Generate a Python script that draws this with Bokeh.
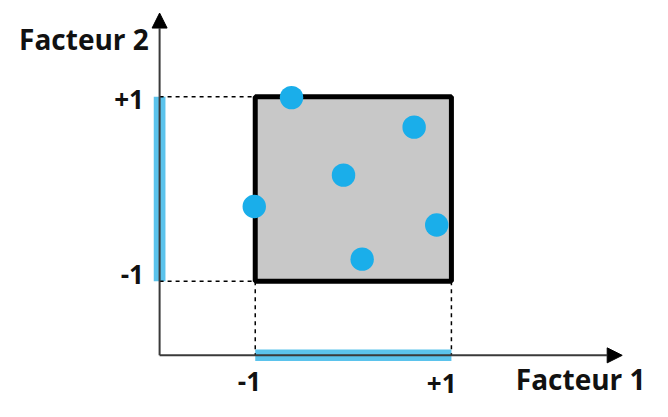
from bokeh.plotting import figure
from bokeh.models import Range1d, Arrow, NormalHead
from bokeh.core.properties import value
from bokeh.embed import file_html
from bokeh.resources import INLINE

# ---- data ----
facteur1 = [-0.63, 0.62, -0.10, -1.01, 0.85, 0.09]
facteur2 = [0.99, 0.67, 0.15, -0.19, -0.39, -0.76]
tick_values = [-1, 1]
tick_labels_x = ["-1", "+1"]
tick_labels_y = ["-1", "+1"]
title_x = "Facteur 1"
title_y = "Facteur 2"

# ---- layout constants (data units) ----
axis_x0 = -1.975   # position of the vertical axis
axis_y0 = -1.802   # position of the horizontal axis
x_tip = 2.741
y_tip = 1.906

W, H = 652, 401
SX, SY = W / 668, H / 417

FONT = value("Open Sans")
TXT = dict(text_font=FONT, text_font_style="bold",
           text_color="#111111", text_baseline="middle")

p = figure(width=W, height=H, x_range=Range1d(-3.597, 3.050),
           y_range=Range1d(-2.302, 2.042), x_axis_type=None, y_axis_type=None,
           toolbar_location=None, output_backend="svg", min_border=0,
           background_fill_color="white", border_fill_color="white",
           outline_line_color=None)
p.grid.visible = False

lo, hi = min(tick_values), max(tick_values)
bar_color = "#5BC3EC"

# projection bars on axes
p.segment(x0=[axis_x0], y0=[lo], x1=[axis_x0], y1=[hi], line_color=bar_color,
          line_width=12 * SX, line_cap="butt")
p.segment(x0=[lo], y0=[axis_y0], x1=[hi], y1=[axis_y0], line_color=bar_color,
          line_width=12 * SY, line_cap="butt")

# axes with arrows
head_kw = dict(size=15, fill_color="black", line_color="black")
p.add_layout(Arrow(end=NormalHead(**head_kw), x_start=axis_x0, y_start=axis_y0,
                   x_end=x_tip, y_end=axis_y0, line_color="#3a3a3a", line_width=2))
p.add_layout(Arrow(end=NormalHead(**head_kw), x_start=axis_x0, y_start=axis_y0,
                   x_end=axis_x0, y_end=y_tip, line_color="#3a3a3a", line_width=2))

# dashed guide lines
p.segment(x0=[axis_x0] * 2, y0=tick_values, x1=[lo] * 2, y1=tick_values,
          line_color="black", line_width=1.5, line_dash="4 4")
p.segment(x0=tick_values, y0=[lo] * 2, x1=tick_values, y1=[axis_y0] * 2,
          line_color="black", line_width=1.5, line_dash="4 4")

# domain square
p.quad(left=[lo], right=[hi], bottom=[lo], top=[hi], fill_color="#C8C8C8",
       line_color="black", line_width=5)

# points
p.scatter(facteur1, facteur2, size=24 * SX, fill_color="#1AAEEA", line_color=None)

# tick labels
p.text(x=[axis_x0] * 2, y=tick_values, text=tick_labels_y, x_offset=-16 * SX,
       y_offset=[-7 * SY, 3 * SY], text_align="right", text_font_size="26px", **TXT)
p.text(x=tick_values, y=[axis_y0] * 2, text=tick_labels_x,
       x_offset=[-6 * SX, -10 * SX], y_offset=[26, 28],
       text_align="center", text_font_size="26px", **TXT)

# axis titles
p.text(x=[x_tip], y=[axis_y0], text=[title_x], x_offset=-109 * SX, y_offset=24,
       text_align="left", text_font_size="28px", **TXT)
p.text(x=[axis_x0], y=[y_tip], text=[title_y], x_offset=-11 * SX, y_offset=27 * SY,
       text_align="right", text_font_size="28px", **TXT)

open("out.html", "w").write(file_html(p, INLINE))
